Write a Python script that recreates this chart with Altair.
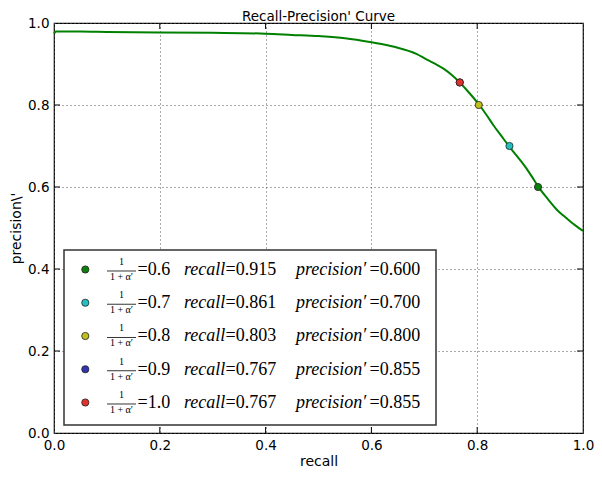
import altair as alt
import pandas as pd

# ---- data ----
recall = [0.0, 0.004, 0.05, 0.1, 0.2, 0.3, 0.4, 0.45, 0.5, 0.55, 0.6, 0.643, 0.686,
          0.703, 0.72, 0.737, 0.752, 0.767, 0.786, 0.804, 0.818, 0.831, 0.846, 0.861,
          0.876, 0.891, 0.904, 0.917, 0.934, 0.951, 0.964, 0.976, 0.988, 1.0]
precision = [0.974, 0.979, 0.979, 0.978, 0.977, 0.976, 0.974, 0.971, 0.968, 0.963,
             0.953, 0.942, 0.924, 0.912, 0.901, 0.888, 0.873, 0.855, 0.828, 0.800,
             0.775, 0.750, 0.724, 0.698, 0.674, 0.649, 0.624, 0.598, 0.570, 0.544,
             0.529, 0.516, 0.504, 0.493]

alpha_ratio = [0.6, 0.7, 0.8, 0.9, 1.0]
op_recall = [0.915, 0.861, 0.803, 0.767, 0.767]
op_precision = [0.600, 0.700, 0.800, 0.855, 0.855]
op_colors = ["#0c800c", "#22c0c0", "#c0c01a", "#3333b3", "#e3302a"]

axis_ticks = [0.0, 0.2, 0.4, 0.6, 0.8, 1.0]
inner_ticks = [0.2, 0.4, 0.6, 0.8]

title_text = "Recall-Precision' Curve"
x_title = "recall"
y_title = "precision\\'"

# ---- tables ----
curve_df = pd.DataFrame({"recall": recall, "precision": precision})
keys = [f"{a:.1f}" for a in alpha_ratio]
op_df = pd.DataFrame({
    "key": keys,
    "recall": op_recall,
    "precision": op_precision,
    "row": list(range(len(keys))),
    "frac_txt": [f"={a:.1f}" for a in alpha_ratio],
    "rec_txt": [f"={r:.3f}" for r in op_recall],
    "prec_txt": [f"={p:.3f}" for p in op_precision],
})
tick_df = pd.DataFrame({"t": inner_ticks})
one_df = pd.DataFrame({"d": [0]})

W, H = 529, 410

xs = alt.Scale(domain=[0, 1], nice=False, zero=False)
ys = alt.Scale(domain=[0, 1], nice=False, zero=False)
color_scale = alt.Scale(domain=keys, range=op_colors)

FONT = "DejaVu Sans"
SERIF = "Liberation Serif"

x_axis = alt.Axis(values=axis_ticks, format=".1f", title=x_title, titlePadding=3)
y_axis = alt.Axis(values=axis_ticks, format=".1f", title=y_title, titlePadding=4)

curve = alt.Chart(curve_df).mark_line(color="#008000", strokeWidth=2,
                                      interpolate="monotone").encode(
    x=alt.X("recall:Q", scale=xs, axis=x_axis),
    y=alt.Y("precision:Q", scale=ys, axis=y_axis),
    order="recall:Q",
)

# inward ticks on all four sides
TL = 6
tick_bottom = alt.Chart(tick_df).mark_rule(color="black", strokeWidth=1).encode(
    x=alt.X("t:Q", scale=xs, axis=x_axis), y=alt.value(H), y2=alt.value(H - TL))
tick_top = alt.Chart(tick_df).mark_rule(color="black", strokeWidth=1).encode(
    x=alt.X("t:Q", scale=xs, axis=x_axis), y=alt.value(0), y2=alt.value(TL))
tick_left = alt.Chart(tick_df).mark_rule(color="black", strokeWidth=1).encode(
    y=alt.Y("t:Q", scale=ys, axis=y_axis), x=alt.value(0), x2=alt.value(TL))
tick_right = alt.Chart(tick_df).mark_rule(color="black", strokeWidth=1).encode(
    y=alt.Y("t:Q", scale=ys, axis=y_axis), x=alt.value(W), x2=alt.value(W - TL))

points = alt.Chart(op_df).mark_circle(size=52, opacity=1, stroke="#222",
                                      strokeWidth=0.8).encode(
    x=alt.X("recall:Q", scale=xs, axis=x_axis),
    y=alt.Y("precision:Q", scale=ys, axis=y_axis),
    fill=alt.Fill("key:N", scale=color_scale, legend=None),
    order=alt.Order("row:Q"),
)

# ---- hand-drawn legend (matplotlib style, lower left) ----
legend_box = alt.Chart(one_df).mark_rect(fill="white", stroke="#333",
                                         strokeWidth=1.5).encode(
    x=alt.value(10), x2=alt.value(382), y=alt.value(227), y2=alt.value(402))

leg = alt.Chart(op_df).transform_calculate(ly="0.3988 - 0.0811 * datum.row")
LY = alt.Y("ly:Q", scale=ys, axis=y_axis)

leg_markers = leg.mark_circle(size=52, opacity=1, stroke="#222",
                              strokeWidth=0.8).encode(
    x=alt.value(31.3), y=LY,
    fill=alt.Fill("key:N", scale=color_scale, legend=None))

numer = leg.mark_text(font=SERIF, fontSize=10, dy=-7.5, color="black",
                      align="center", baseline="middle", text="1").encode(
    x=alt.value(67.5), y=LY)
bar = leg.mark_rule(color="black", strokeWidth=0.8, yOffset=1.5).encode(
    x=alt.value(53), x2=alt.value(82), y=LY)
denom = leg.mark_text(font=SERIF, fontSize=10, dy=7.5, color="black",
                      align="center", baseline="middle", text="1 + α′").encode(
    x=alt.value(67.5), y=LY)


def seg(field, px):
    return leg.mark_text(font=SERIF, fontSize=18, color="black", align="left",
                         baseline="middle", dy=0.5).encode(
        x=alt.value(px), y=LY, text=f"{field}:N")


def word(txt, px):
    return leg.mark_text(font=SERIF, fontSize=18, color="black", align="left",
                         baseline="middle", dy=0.5, fontStyle="italic",
                         text=txt).encode(x=alt.value(px), y=LY)


frac_eq = seg("frac_txt", 83.5)
rec_lbl = word("recall", 130)
rec_eq = seg("rec_txt", 171.5)
prec_lbl = word("precision′", 242)
prec_eq = seg("prec_txt", 315.5)

chart = alt.layer(
    curve, tick_bottom, tick_top, tick_left, tick_right, points,
    legend_box, leg_markers, numer, bar, denom,
    frac_eq, rec_lbl, rec_eq, prec_lbl, prec_eq,
).properties(
    width=W, height=H,
    title=alt.TitleParams(title_text, font=FONT, fontSize=13.5,
                          fontWeight="normal", color="black", offset=1, dy=8),
    autosize=alt.AutoSizeParams(type="none"),
    padding={"left": 46, "top": 15, "right": 11, "bottom": 37},
).configure_view(
    stroke="black", strokeWidth=1.2
).configure_axis(
    grid=True, gridDash=[1, 3], gridColor="#555", gridWidth=1, ticks=False,
    domain=False, labelFont=FONT, labelFontSize=13.5, labelColor="black",
    labelPadding=5, titleFont=FONT, titleFontSize=14, titleFontWeight="normal",
    titleColor="black", labelFlush=False,
)

chart.save("out.html", embed_options={"renderer": "svg", "actions": False})
